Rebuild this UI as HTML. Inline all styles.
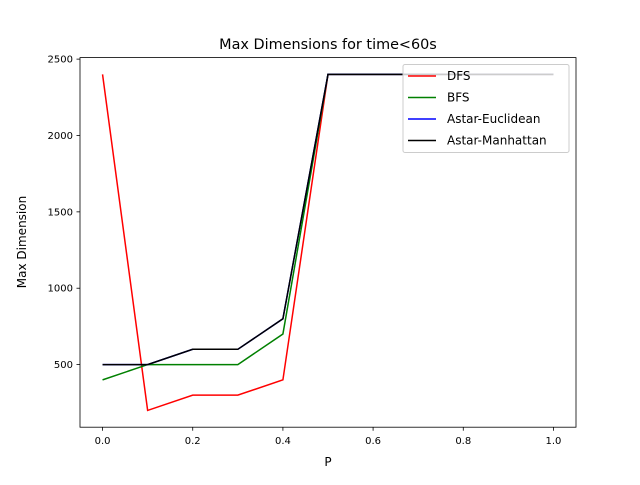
<!DOCTYPE html>
<html><head><meta charset="utf-8"><style>
body{margin:0;background:#fff;font-family:"Liberation Sans","DejaVu Sans",sans-serif}
</style></head><body>
<svg id="chart" width="640" height="480" font-family="DejaVu Sans, Liberation Sans, sans-serif">
<rect width="640" height="480" fill="#fff"/>
<text x="328" y="49" text-anchor="middle" font-size="14.4">Max Dimensions for time&lt;60s</text>
<g id="ticks"></g>
<g id="lines"></g>
<rect x="80" y="57.6" width="496" height="369.6" fill="none" stroke="#000" stroke-width="0.8"/>
<text x="328" y="466" text-anchor="middle" font-size="12">P</text>
<text transform="translate(26,242) rotate(-90)" text-anchor="middle" font-size="12">Max Dimension</text>
<g id="legend"></g>
</svg>
<script>
const xs=[0,0.1,0.2,0.3,0.4,0.5,0.6,0.7,0.8,0.9,1.0];
const seriesNames=["DFS","BFS","Astar-Euclidean","Astar-Manhattan"];
const colors=["#ff0000","#008000","#0000ff","#000000"];
const dfs=[2400,200,300,300,400,2400,2400,2400,2400,2400,2400];
const bfs=[400,500,500,500,700,2400,2400,2400,2400,2400,2400];
const euc=[500,500,600,600,800,2400,2400,2400,2400,2400,2400];
const man=[500,500,600,600,800,2400,2400,2400,2400,2400,2400];
const xTicks=[0,0.2,0.4,0.6,0.8,1.0];
const xTickLabels=["0.0","0.2","0.4","0.6","0.8","1.0"];
const yTicks=[500,1000,1500,2000,2500];
const NS="http://www.w3.org/2000/svg";
const L=80,R=576,T=57.6,B=427.2,x0=-0.05,x1=1.05,y0=90,y1=2510;
const X=v=>L+(v-x0)/(x1-x0)*(R-L);
const Y=v=>B-(v-y0)/(y1-y0)*(B-T);
function mk(t,a,p){const e=document.createElementNS(NS,t);for(const k in a)e.setAttribute(k,a[k]);p.appendChild(e);return e;}
const tg=document.getElementById('ticks');
xTicks.forEach((v,i)=>{
 const l=mk('line',{x1:X(v),x2:X(v),y1:B,y2:B+3.5,stroke:'#000','stroke-width':0.8},tg);
 
 
 const t=mk('text',{x:X(v),y:B+17,'text-anchor':'middle','font-size':10},tg);t.textContent=xTickLabels[i];
 
 
});
yTicks.forEach(v=>{
 const l=mk('line',{x1:L-3.5,x2:L,y1:Y(v),y2:Y(v),stroke:'#000','stroke-width':0.8},tg);
 
 
 const t=mk('text',{x:L-7,y:Y(v)+3.5,'text-anchor':'end','font-size':10},tg);t.textContent=v;
 
 
});
const lg=document.getElementById('lines');
[dfs,bfs,euc,man].forEach((s,i)=>{
 const p=mk('polyline',{points:s.map((v,j)=>X(xs[j])+','+Y(v)).join(' '),fill:'none',stroke:colors[i],'stroke-width':1.5},lg);
 
 
});
const leg=document.getElementById('legend');
const box=mk('rect',{x:403,y:64.5,width:166,height:88,fill:'#fff','fill-opacity':0.8,stroke:'#ccc',rx:2},leg);


seriesNames.forEach((n,i)=>{
 const y=76+i*21.5;
 const l=mk('line',{x1:408,x2:436,y1:y,y2:y,stroke:colors[i],'stroke-width':1.5},leg);
 
 
 const t=mk('text',{x:447,y:y+4,'font-size':12},leg);t.textContent=n;
 
 
});
</script>
</body></html>
